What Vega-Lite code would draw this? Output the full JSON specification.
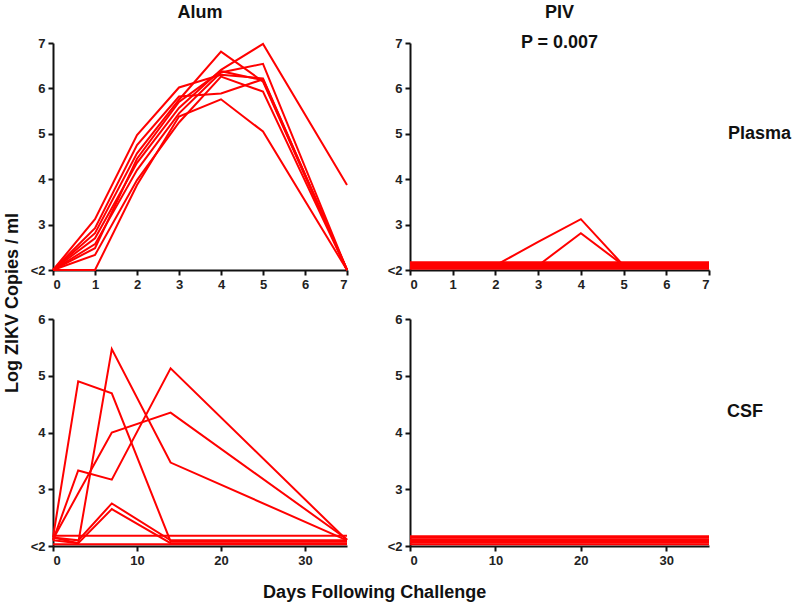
{
  "$schema": "https://vega.github.io/schema/vega-lite/v6.json",
  "padding": {"left": 4, "top": 4, "right": 5, "bottom": 5},
  "background": "white",
  "config": {
    "view": {"stroke": null},
    "font": "Liberation Sans",
    "axis": {
      "domainColor": "#111", "domainWidth": 2, "tickColor": "#111", "tickWidth": 2, "tickSize": 5,
      "grid": false, "labelFont": "Liberation Sans", "labelFontWeight": "bold", "labelFontSize": 13,
      "labelColor": "#222", "title": null, "labelPadding": 3
    },
    "title": {
      "font": "Liberation Sans", "fontWeight": "bold", "fontSize": 18, "color": "#111",
      "subtitleFont": "Liberation Sans", "subtitleFontWeight": "bold", "subtitleFontSize": 18, "subtitleColor": "#111"
    },
    "line": {"color": "#ff0000", "strokeWidth": 2}
  },
  "datasets": {
    "alumPlasma": [
      {"animal": "A1", "day": 0, "value": 2}, {"animal": "A1", "day": 1, "value": 3.12}, {"animal": "A1", "day": 2, "value": 4.97}, {"animal": "A1", "day": 3, "value": 6.02}, {"animal": "A1", "day": 4, "value": 6.3}, {"animal": "A1", "day": 5, "value": 6.22}, {"animal": "A1", "day": 7, "value": 2},
      {"animal": "A2", "day": 0, "value": 2}, {"animal": "A2", "day": 1, "value": 2.92}, {"animal": "A2", "day": 2, "value": 4.75}, {"animal": "A2", "day": 3, "value": 5.82}, {"animal": "A2", "day": 4, "value": 5.89}, {"animal": "A2", "day": 5, "value": 6.2}, {"animal": "A2", "day": 7, "value": 2},
      {"animal": "A3", "day": 0, "value": 2}, {"animal": "A3", "day": 1, "value": 2.81}, {"animal": "A3", "day": 2, "value": 4.57}, {"animal": "A3", "day": 3, "value": 5.75}, {"animal": "A3", "day": 4, "value": 6.81}, {"animal": "A3", "day": 5, "value": 6.15}, {"animal": "A3", "day": 7, "value": 2},
      {"animal": "A4", "day": 0, "value": 2}, {"animal": "A4", "day": 1, "value": 2.7}, {"animal": "A4", "day": 2, "value": 4.36}, {"animal": "A4", "day": 3, "value": 5.57}, {"animal": "A4", "day": 4, "value": 6.41}, {"animal": "A4", "day": 5, "value": 6.98}, {"animal": "A4", "day": 7, "value": 3.87},
      {"animal": "A5", "day": 0, "value": 2}, {"animal": "A5", "day": 1, "value": 2.57}, {"animal": "A5", "day": 2, "value": 4.2}, {"animal": "A5", "day": 3, "value": 5.45}, {"animal": "A5", "day": 4, "value": 6.35}, {"animal": "A5", "day": 5, "value": 6.54}, {"animal": "A5", "day": 7, "value": 2},
      {"animal": "A6", "day": 0, "value": 2}, {"animal": "A6", "day": 1, "value": 2.33}, {"animal": "A6", "day": 2, "value": 3.98}, {"animal": "A6", "day": 3, "value": 5.25}, {"animal": "A6", "day": 4, "value": 6.26}, {"animal": "A6", "day": 5, "value": 5.93}, {"animal": "A6", "day": 7, "value": 2},
      {"animal": "A7", "day": 0, "value": 2}, {"animal": "A7", "day": 1, "value": 2.0}, {"animal": "A7", "day": 2, "value": 3.87}, {"animal": "A7", "day": 3, "value": 5.38}, {"animal": "A7", "day": 4, "value": 5.76}, {"animal": "A7", "day": 5, "value": 5.05}, {"animal": "A7", "day": 7, "value": 2},
      {"animal": "A8", "day": 0, "value": 2}, {"animal": "A8", "day": 1, "value": 2.48}, {"animal": "A8", "day": 2, "value": 4.45}, {"animal": "A8", "day": 3, "value": 5.7}, {"animal": "A8", "day": 4, "value": 6.38}, {"animal": "A8", "day": 5, "value": 6.18}, {"animal": "A8", "day": 7, "value": 2}
    ],
    "pivPlasma": [
      {"animal": "P1", "day": 0, "value": 2.03}, {"animal": "P1", "day": 1, "value": 2.03}, {"animal": "P1", "day": 2, "value": 2.03}, {"animal": "P1", "day": 3, "value": 2.03}, {"animal": "P1", "day": 4, "value": 2.03}, {"animal": "P1", "day": 5, "value": 2.03}, {"animal": "P1", "day": 7, "value": 2.03},
      {"animal": "P2", "day": 0, "value": 2.06}, {"animal": "P2", "day": 1, "value": 2.06}, {"animal": "P2", "day": 2, "value": 2.06}, {"animal": "P2", "day": 3, "value": 2.06}, {"animal": "P2", "day": 4, "value": 2.06}, {"animal": "P2", "day": 5, "value": 2.06}, {"animal": "P2", "day": 7, "value": 2.06},
      {"animal": "P3", "day": 0, "value": 2.09}, {"animal": "P3", "day": 1, "value": 2.09}, {"animal": "P3", "day": 2, "value": 2.09}, {"animal": "P3", "day": 3, "value": 2.09}, {"animal": "P3", "day": 4, "value": 2.09}, {"animal": "P3", "day": 5, "value": 2.09}, {"animal": "P3", "day": 7, "value": 2.09},
      {"animal": "P4", "day": 0, "value": 2.12}, {"animal": "P4", "day": 1, "value": 2.12}, {"animal": "P4", "day": 2, "value": 2.12}, {"animal": "P4", "day": 3, "value": 2.12}, {"animal": "P4", "day": 4, "value": 2.12}, {"animal": "P4", "day": 5, "value": 2.12}, {"animal": "P4", "day": 7, "value": 2.12},
      {"animal": "P5", "day": 0, "value": 2.15}, {"animal": "P5", "day": 1, "value": 2.15}, {"animal": "P5", "day": 2, "value": 2.15}, {"animal": "P5", "day": 3, "value": 2.15}, {"animal": "P5", "day": 4, "value": 2.15}, {"animal": "P5", "day": 5, "value": 2.15}, {"animal": "P5", "day": 7, "value": 2.15},
      {"animal": "P6", "day": 0, "value": 2.17}, {"animal": "P6", "day": 1, "value": 2.17}, {"animal": "P6", "day": 2, "value": 2.17}, {"animal": "P6", "day": 3, "value": 2.17}, {"animal": "P6", "day": 4, "value": 2.17}, {"animal": "P6", "day": 5, "value": 2.17}, {"animal": "P6", "day": 7, "value": 2.17},
      {"animal": "P7", "day": 0, "value": 2.1}, {"animal": "P7", "day": 1, "value": 2.1}, {"animal": "P7", "day": 2, "value": 2.1}, {"animal": "P7", "day": 3, "value": 2.62}, {"animal": "P7", "day": 4, "value": 3.12}, {"animal": "P7", "day": 5, "value": 2.1}, {"animal": "P7", "day": 7, "value": 2.1},
      {"animal": "P8", "day": 0, "value": 2.1}, {"animal": "P8", "day": 1, "value": 2.1}, {"animal": "P8", "day": 2, "value": 2.1}, {"animal": "P8", "day": 3, "value": 2.1}, {"animal": "P8", "day": 4, "value": 2.81}, {"animal": "P8", "day": 5, "value": 2.1}, {"animal": "P8", "day": 7, "value": 2.1}
    ],
    "alumCSF": [
      {"animal": "C1", "day": 0, "value": 2.15}, {"animal": "C1", "day": 3, "value": 2.05}, {"animal": "C1", "day": 7, "value": 5.47}, {"animal": "C1", "day": 14, "value": 3.47}, {"animal": "C1", "day": 35, "value": 2.1},
      {"animal": "C2", "day": 0, "value": 2.15}, {"animal": "C2", "day": 3, "value": 4.9}, {"animal": "C2", "day": 7, "value": 4.69}, {"animal": "C2", "day": 14, "value": 2.08}, {"animal": "C2", "day": 35, "value": 2.08},
      {"animal": "C3", "day": 0, "value": 2.1}, {"animal": "C3", "day": 3, "value": 3.33}, {"animal": "C3", "day": 7, "value": 3.17}, {"animal": "C3", "day": 14, "value": 5.13}, {"animal": "C3", "day": 35, "value": 2.1},
      {"animal": "C4", "day": 0, "value": 2.12}, {"animal": "C4", "day": 3, "value": 2.93}, {"animal": "C4", "day": 7, "value": 4.0}, {"animal": "C4", "day": 14, "value": 4.35}, {"animal": "C4", "day": 35, "value": 2.12},
      {"animal": "C5", "day": 0, "value": 2.15}, {"animal": "C5", "day": 3, "value": 2.1}, {"animal": "C5", "day": 7, "value": 2.75}, {"animal": "C5", "day": 14, "value": 2.1}, {"animal": "C5", "day": 35, "value": 2.1},
      {"animal": "C6", "day": 0, "value": 2.1}, {"animal": "C6", "day": 3, "value": 2.05}, {"animal": "C6", "day": 7, "value": 2.65}, {"animal": "C6", "day": 14, "value": 2.05}, {"animal": "C6", "day": 35, "value": 2.05},
      {"animal": "C7", "day": 0, "value": 2.18}, {"animal": "C7", "day": 3, "value": 2.18}, {"animal": "C7", "day": 7, "value": 2.18}, {"animal": "C7", "day": 14, "value": 2.18}, {"animal": "C7", "day": 35, "value": 2.18},
      {"animal": "C8", "day": 0, "value": 2.03}, {"animal": "C8", "day": 3, "value": 2.03}, {"animal": "C8", "day": 7, "value": 2.03}, {"animal": "C8", "day": 14, "value": 2.03}, {"animal": "C8", "day": 35, "value": 2.03}
    ],
    "pivCSF": [
      {"animal": "Q1", "day": 0, "value": 2.03}, {"animal": "Q1", "day": 3, "value": 2.03}, {"animal": "Q1", "day": 7, "value": 2.03}, {"animal": "Q1", "day": 14, "value": 2.03}, {"animal": "Q1", "day": 35, "value": 2.03},
      {"animal": "Q2", "day": 0, "value": 2.06}, {"animal": "Q2", "day": 3, "value": 2.06}, {"animal": "Q2", "day": 7, "value": 2.06}, {"animal": "Q2", "day": 14, "value": 2.06}, {"animal": "Q2", "day": 35, "value": 2.06},
      {"animal": "Q3", "day": 0, "value": 2.09}, {"animal": "Q3", "day": 3, "value": 2.09}, {"animal": "Q3", "day": 7, "value": 2.09}, {"animal": "Q3", "day": 14, "value": 2.09}, {"animal": "Q3", "day": 35, "value": 2.09},
      {"animal": "Q4", "day": 0, "value": 2.12}, {"animal": "Q4", "day": 3, "value": 2.12}, {"animal": "Q4", "day": 7, "value": 2.12}, {"animal": "Q4", "day": 14, "value": 2.12}, {"animal": "Q4", "day": 35, "value": 2.12},
      {"animal": "Q5", "day": 0, "value": 2.15}, {"animal": "Q5", "day": 3, "value": 2.15}, {"animal": "Q5", "day": 7, "value": 2.15}, {"animal": "Q5", "day": 14, "value": 2.15}, {"animal": "Q5", "day": 35, "value": 2.15},
      {"animal": "Q6", "day": 0, "value": 2.17}, {"animal": "Q6", "day": 3, "value": 2.17}, {"animal": "Q6", "day": 7, "value": 2.17}, {"animal": "Q6", "day": 14, "value": 2.17}, {"animal": "Q6", "day": 35, "value": 2.17}
    ]
  },
  "title": {"text": "Log ZIKV Copies / ml", "orient": "left", "anchor": "middle", "offset": 8},
  "hconcat": [
    {
      "title": {"text": "Days Following Challenge", "orient": "bottom", "anchor": "middle", "offset": 17, "dx": -36},
      "spacing": 22,
      "vconcat": [
        {
          "title": {"text": "Plasma", "orient": "right", "angle": 0, "align": "left", "baseline": "middle", "anchor": "middle", "offset": 16, "dx": -64, "dy": -14},
          "spacing": 63,
          "bounds": "flush",
          "hconcat": [
            {
              "title": {"text": "Alum", "subtitle": " ", "subtitlePadding": 12, "offset": -15},
              "width": 294, "height": 227,
              "data": {"name": "alumPlasma"},
              "mark": {"type": "line"},
              "encoding": {
                "x": {"field": "day", "type": "quantitative", "scale": {"domain": [0, 7], "nice": false}, "axis": {"values": [0, 1, 2, 3, 4, 5, 6, 7]}},
                "y": {"field": "value", "type": "quantitative", "scale": {"domain": [2, 7], "nice": false, "zero": false}, "axis": {"values": [2, 3, 4, 5, 6, 7], "labelExpr": "datum.value == 2 ? '<2' : datum.label"}},
                "detail": {"field": "animal"}
              }
            },
            {
              "title": {"text": "PIV", "subtitle": "P = 0.007", "subtitlePadding": 12, "offset": -15},
              "width": 299, "height": 227,
              "data": {"name": "pivPlasma"},
              "mark": {"type": "line"},
              "encoding": {
                "x": {"field": "day", "type": "quantitative", "scale": {"domain": [0, 7], "nice": false}, "axis": {"values": [0, 1, 2, 3, 4, 5, 6, 7]}},
                "y": {"field": "value", "type": "quantitative", "scale": {"domain": [2, 7], "nice": false, "zero": false}, "axis": {"values": [2, 3, 4, 5, 6, 7], "labelExpr": "datum.value == 2 ? '<2' : datum.label"}},
                "detail": {"field": "animal"}
              }
            }
          ]
        },
        {
          "title": {"text": "CSF", "orient": "right", "angle": 0, "align": "left", "baseline": "middle", "anchor": "middle", "offset": 16, "dx": -38, "dy": -28},
          "spacing": 63,
          "bounds": "flush",
          "hconcat": [
            {
              "width": 294, "height": 227,
              "data": {"name": "alumCSF"},
              "mark": {"type": "line"},
              "encoding": {
                "x": {"field": "day", "type": "quantitative", "scale": {"domain": [0, 35], "nice": false}, "axis": {"values": [0, 10, 20, 30]}},
                "y": {"field": "value", "type": "quantitative", "scale": {"domain": [2, 6], "nice": false, "zero": false}, "axis": {"values": [2, 3, 4, 5, 6], "labelExpr": "datum.value == 2 ? '<2' : datum.label"}},
                "detail": {"field": "animal"}
              }
            },
            {
              "width": 299, "height": 227,
              "data": {"name": "pivCSF"},
              "mark": {"type": "line"},
              "encoding": {
                "x": {"field": "day", "type": "quantitative", "scale": {"domain": [0, 35], "nice": false}, "axis": {"values": [0, 10, 20, 30]}},
                "y": {"field": "value", "type": "quantitative", "scale": {"domain": [2, 6], "nice": false, "zero": false}, "axis": {"values": [2, 3, 4, 5, 6], "labelExpr": "datum.value == 2 ? '<2' : datum.label"}},
                "detail": {"field": "animal"}
              }
            }
          ]
        }
      ]
    }
  ]
}
